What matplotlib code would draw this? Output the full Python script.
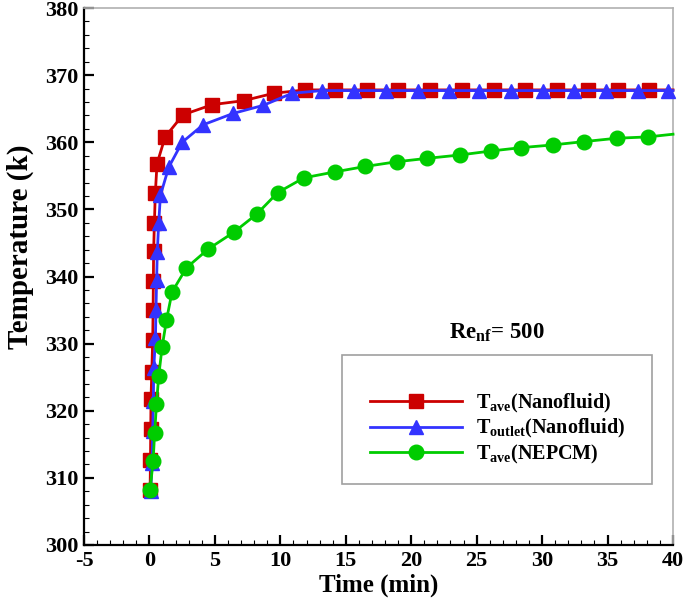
import matplotlib
matplotlib.use('Agg')
import matplotlib.pyplot as plt
from matplotlib.patches import Rectangle
from matplotlib.ticker import MultipleLocator

plt.rcParams['font.family'] = ['Liberation Serif', 'DejaVu Serif']
plt.rcParams['font.weight'] = 'bold'
plt.rcParams['axes.unicode_minus'] = False
plt.rcParams['mathtext.fontset'] = 'custom'
plt.rcParams['mathtext.rm'] = 'Liberation Serif:bold'
plt.rcParams['mathtext.bf'] = 'Liberation Serif:bold'
plt.rcParams['mathtext.it'] = 'Liberation Serif:bold'

# T_ave (Nanofluid)
red_t = [0.05, 0.08, 0.1, 0.12, 0.18, 0.25, 0.28, 0.3, 0.32, 0.38, 0.45, 0.58, 1.2, 2.57,
         4.8, 7.2, 9.5, 11.9, 14.2, 16.6, 19.0, 21.4, 23.9, 26.3, 28.7, 31.1, 33.5, 35.8, 38.2, 40]
red_T = [308.2, 312.6, 317.3, 321.7, 325.8, 330.5, 335.0, 339.4, 343.8, 348.0, 352.4, 356.8, 360.8, 364.1,
         365.6, 366.2, 367.3, 367.8, 367.8, 367.8, 367.8, 367.8, 367.8, 367.8, 367.8, 367.8, 367.8, 367.8, 367.8, 367.8]

# T_outlet (Nanofluid)
blue_t = [0.1, 0.2, 0.25, 0.3, 0.33, 0.46, 0.5, 0.55, 0.6, 0.71, 0.84, 1.48, 2.5, 4.1, 6.4, 8.7,
          10.9, 13.2, 15.6, 18.1, 20.5, 22.9, 25.2, 27.6, 30.1, 32.4, 34.9, 37.3, 39.6, 40]
blue_T = [308.0, 312.2, 317.0, 321.5, 326.3, 330.8, 335.0, 339.5, 343.6, 348.0, 352.1, 356.3, 360.0, 362.6, 364.3, 365.5,
          367.3, 367.7, 367.7, 367.7, 367.7, 367.7, 367.7, 367.7, 367.7, 367.7, 367.7, 367.7, 367.7, 367.7]

# T_ave (NEPCM)
green_t = [0.05, 0.28, 0.4, 0.54, 0.71, 0.97, 1.3, 1.73, 2.83, 4.5, 6.45, 8.2, 9.8, 11.8, 14.2, 16.5,
           18.9, 21.2, 23.7, 26.1, 28.4, 30.8, 33.2, 35.7, 38.1, 40]
green_T = [308.2, 312.5, 316.7, 321.0, 325.2, 329.5, 333.5, 337.7, 341.3, 344.1, 346.6, 349.3, 352.5, 354.7, 355.6, 356.4,
           357.1, 357.6, 358.1, 358.7, 359.2, 359.6, 360.1, 360.6, 360.8, 361.2]

fig = plt.figure(figsize=(6.85, 6.03), dpi=100)
ax = fig.add_axes([0.1226, 0.0962, 0.8599, 0.8905])

ax.plot(red_t, red_T, color='#cc0000', lw=2, marker='s', ms=9.5,
        markevery=list(range(len(red_t) - 1)), clip_on=False, zorder=3,
        label=r'T$_{\rm ave}$(Nanofluid)')
ax.plot(blue_t, blue_T, color='#3333ff', lw=2, marker='^', ms=10.5,
        markevery=list(range(len(blue_t) - 1)), clip_on=False, zorder=4,
        label=r'T$_{\rm outlet}$(Nanofluid)')
ax.plot(green_t, green_T, color='#00cc00', lw=2, marker='o', ms=10.5,
        markevery=list(range(len(green_t) - 1)), clip_on=False, zorder=5,
        label=r'T$_{\rm ave}$(NEPCM)')

ax.set_xlim(-5, 40)
ax.set_ylim(300, 380)
ax.xaxis.set_major_locator(MultipleLocator(5))
ax.xaxis.set_minor_locator(MultipleLocator(1))
ax.yaxis.set_major_locator(MultipleLocator(10))
ax.yaxis.set_minor_locator(MultipleLocator(2))
ax.tick_params(which='major', direction='in', length=7, width=1.6, labelsize=16, pad=4)
ax.tick_params(which='minor', direction='in', length=3.5, width=0.8)
for lab in ax.get_xticklabels() + ax.get_yticklabels():
    lab.set_fontweight('bold')

for s in ['left', 'bottom']:
    ax.spines[s].set_linewidth(1.6)
    ax.spines[s].set_color('black')
for s in ['top', 'right']:
    ax.spines[s].set_linewidth(1.2)
    ax.spines[s].set_color('#b0b0b0')

ax.set_xlabel('Time (min)', fontsize=18, fontweight='bold', labelpad=2)
ax.set_ylabel('Temperature (k)', fontsize=21, fontweight='bold')
ax.yaxis.set_label_coords(-0.085, 0.555)

ax.text(0.701, 0.395, r'Re$_{\rm nf}$= 500', transform=ax.transAxes, fontsize=16.5,
        fontweight='bold', ha='center', va='center')

ax.add_patch(Rectangle((0.438, 0.114), 0.526, 0.240, transform=ax.transAxes,
                       fill=False, edgecolor='#a0a0a0', lw=1.2, zorder=6))
leg = ax.legend(loc='upper left', bbox_to_anchor=(0.485, 0.285), frameon=False,
                fontsize=14.5, handlelength=4.6, handletextpad=0.7, labelspacing=0.12,
                borderpad=0, borderaxespad=0)
for t in leg.get_texts():
    t.set_fontweight('bold')

fig.savefig('out.png', dpi=100)
